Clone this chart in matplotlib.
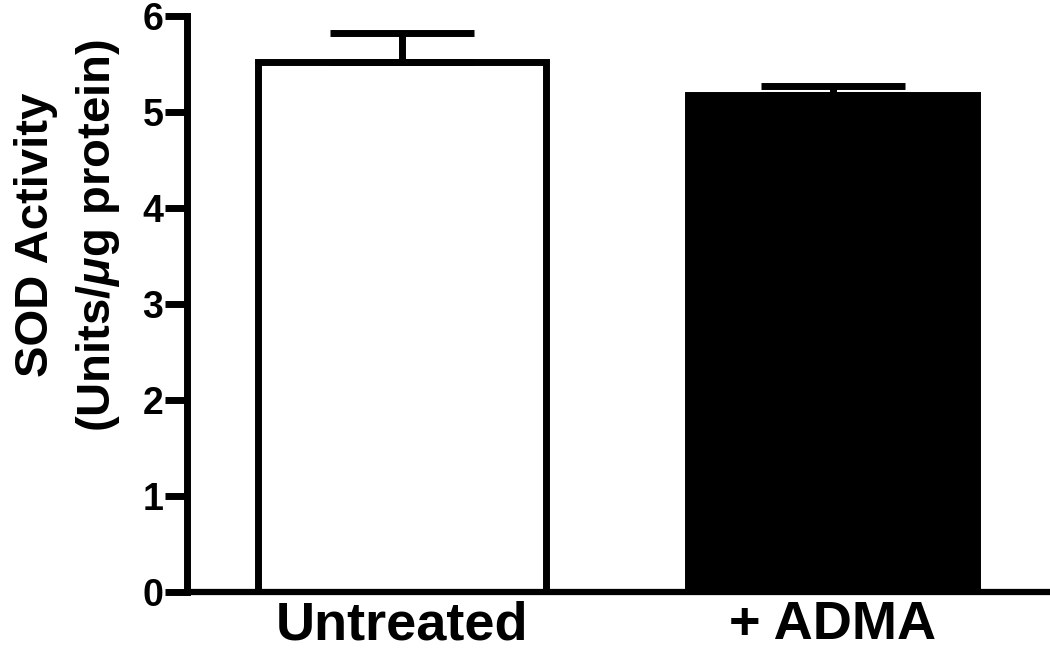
import matplotlib
matplotlib.use("Agg")
import matplotlib.pyplot as plt

# -----------------------------------------------
# data
# -----------------------------------------------
groups = ["Untreated", "+ ADMA"]
sod_mean = [5.52, 5.18]
sod_sem = [0.31, 0.09]
bar_colors = ["white", "black"]

plt.rcParams["font.family"] = ["Liberation Sans", "DejaVu Sans"]
plt.rcParams["font.weight"] = "bold"
plt.rcParams["mathtext.fontset"] = "custom"
plt.rcParams["mathtext.it"] = "Liberation Sans:italic:bold"
plt.rcParams["mathtext.rm"] = "Liberation Sans:bold"

fig = plt.figure(figsize=(10.5, 6.5), dpi=100)
ax = fig.add_axes([0.178, 0.089, 0.82, 0.886])

lw = 5
x = range(len(groups))
ax.bar(x, sod_mean, width=0.67, color=bar_colors, edgecolor="black",
       linewidth=lw, zorder=2)
ax.errorbar(x, sod_mean, yerr=[[0] * len(sod_sem), sod_sem], fmt="none",
            ecolor="black", elinewidth=lw, capsize=52, capthick=lw, zorder=3)

ax.set_xlim(-0.5, 1.5)
ax.set_ylim(0, 6)
ax.set_yticks(range(7))
ax.set_xticks(list(x))
ax.set_xticklabels(groups, fontsize=39, fontweight="bold")

for s in ["top", "right"]:
    ax.spines[s].set_visible(False)
ax.spines["left"].set_linewidth(lw)
ax.spines["bottom"].set_linewidth(4.5)

ax.tick_params(axis="y", length=16, width=lw, labelsize=27, pad=1)
ax.tick_params(axis="x", length=0, pad=6)
for lab in ax.get_yticklabels():
    lab.set_fontweight("bold")

ax.set_ylabel("SOD Activity\n(Units/$\\mu$g protein)", fontsize=34,
              fontweight="bold", linespacing=1.45)
ax.yaxis.set_label_coords(-0.075, 0.62)

fig.savefig("out.png", dpi=100)
